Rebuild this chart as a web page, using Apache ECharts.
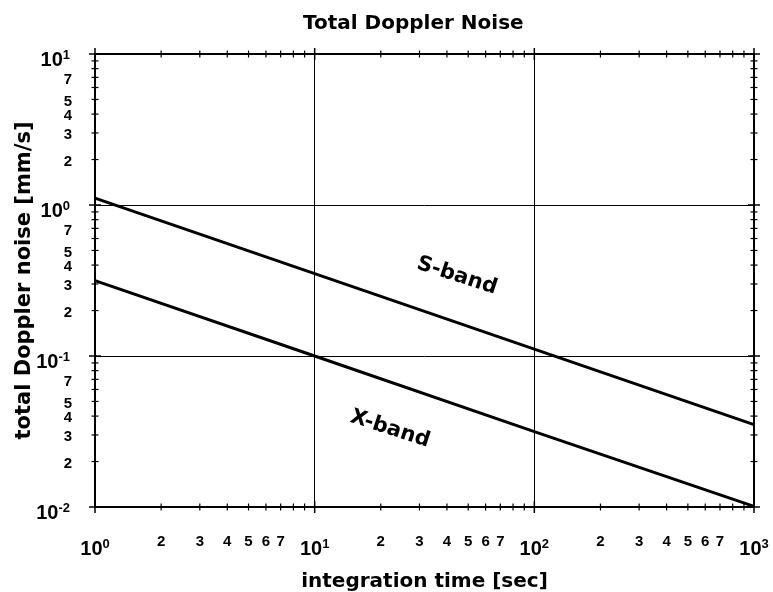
<!DOCTYPE html>
<html><head><meta charset="utf-8">
<script src="https://cdn.jsdelivr.net/npm/echarts@6/dist/echarts.min.js"></script>
<style>html,body{margin:0;padding:0;background:#fff}#c{width:773px;height:592px}</style>
</head><body><div id="c"></div>
<script>
// ---- data ----
const xMajorTicks = [1, 10, 100, 1000];
const yMajorTicks = [0.01, 0.1, 1, 10];
const xMinorTicks = [2,3,4,5,6,7,8,9, 20,30,40,50,60,70,80,90, 200,300,400,500,600,700,800,900];
const yMinorTicks = [0.02,0.03,0.04,0.05,0.06,0.07,0.08,0.09, 0.2,0.3,0.4,0.5,0.6,0.7,0.8,0.9, 2,3,4,5,6,7,8,9];
const xMinorLabels = ['2','3','4','5','6','7'];
const yMinorLabels = ['2','3','4','5','7'];
const sBandTime = [1, 10, 100, 1000];
const sBandNoise = [1.11, 0.351, 0.111, 0.0351];
const xBandTime = [1, 10, 100, 1000];
const xBandNoise = [0.316, 0.1, 0.0316, 0.0101];
const seriesNames = ['S-band', 'X-band'];

const FF = '"Liberation Sans", Arial, Helvetica, sans-serif';
const FT = '"DejaVu Sans", Verdana, sans-serif';

function mantissa(v) {
  const e = Math.floor(Math.log10(v) + 1e-9);
  return Math.round(v / Math.pow(10, e));
}
function majorFmt(v) {
  const e = Math.round(Math.log10(v));
  return '{b|10}{s|' + e + '}';
}
const richLabel = {
  b: {fontSize: 20, fontWeight: 'bold', fontFamily: FF, color: '#000', lineHeight: 22},
  s: {fontSize: 13, fontWeight: 'bold', fontFamily: FF, color: '#000', verticalAlign: 'top', lineHeight: 12}
};

function xTicksRender(params, api) {
  const v = api.value(0);
  const cs = params.coordSys;
  const px = api.coord([v, 1])[0];
  const major = xMajorTicks.indexOf(v) >= 0;
  const L = major ? 6 : 3.5;
  const y0 = cs.y + cs.height, y1 = cs.y;
  const st = {stroke: '#000', lineWidth: major ? 1.5 : 1.2};
  const ch = [
    {type: 'line', shape: {x1: px, y1: y0 - L, x2: px, y2: y0 + L}, style: st},
    {type: 'line', shape: {x1: px, y1: y1 - L, x2: px, y2: y1 + L}, style: st}
  ];
  if (!major && xMinorLabels.indexOf(String(mantissa(v))) >= 0) {
    ch.push({type: 'text', x: px, y: y0 + 35, style: {text: String(mantissa(v)), fill: '#000',
      font: 'bold 15px ' + FF, align: 'center', verticalAlign: 'middle'}});
  }
  return {type: 'group', children: ch};
}
function yTicksRender(params, api) {
  const v = api.value(1);
  const cs = params.coordSys;
  const py = api.coord([1, v])[1];
  const major = yMajorTicks.indexOf(v) >= 0;
  const L = major ? 6 : 3.5;
  const x0 = cs.x, x1 = cs.x + cs.width;
  const st = {stroke: '#000', lineWidth: major ? 1.5 : 1.2};
  const ch = [
    {type: 'line', shape: {x1: x0 - L, y1: py, x2: x0 + L, y2: py}, style: st},
    {type: 'line', shape: {x1: x1 - L, y1: py, x2: x1 + L, y2: py}, style: st}
  ];
  if (!major && yMinorLabels.indexOf(String(mantissa(v))) >= 0) {
    ch.push({type: 'text', x: x0 - 23, y: py + 2, style: {text: String(mantissa(v)), fill: '#000',
      font: 'bold 15px ' + FF, align: 'right', verticalAlign: 'middle'}});
  }
  return {type: 'group', children: ch};
}

const chart = echarts.init(document.getElementById('c'), null, {renderer: 'canvas'});
chart.setOption({
  animation: false,
  backgroundColor: '#fff',
  title: {
    text: 'Total Doppler Noise', left: 303, top: 14, padding: 0,
    textStyle: {fontFamily: FT, fontWeight: 'bold', fontSize: 20, color: '#000'}
  },
  grid: {left: 95, right: 19, top: 54, bottom: 85, show: true, borderColor: '#000', borderWidth: 2,
         backgroundColor: 'transparent', containLabel: false, outerBoundsMode: 'none'},
  xAxis: {
    type: 'log', logBase: 10, min: 1, max: 1000,
    name: 'integration time [sec]', nameLocation: 'middle', nameGap: 65, nameMoveOverlap: false,
    nameTextStyle: {fontFamily: FT, fontWeight: 'bold', fontSize: 20, color: '#000'},
    axisLine: {show: true, lineStyle: {color: '#000', width: 2}},
    axisTick: {show: false},
    splitLine: {show: true, lineStyle: {color: '#000', width: 1}},
    axisLabel: {margin: 31, formatter: majorFmt, rich: richLabel}
  },
  yAxis: {
    type: 'log', logBase: 10, min: 0.01, max: 10,
    name: 'total Doppler noise [mm/s]', nameLocation: 'middle', nameGap: 60, nameRotate: 90, nameMoveOverlap: false,
    nameTextStyle: {fontFamily: FT, fontWeight: 'bold', fontSize: 21, color: '#000'},
    axisLine: {show: true, lineStyle: {color: '#000', width: 2}},
    axisTick: {show: false},
    splitLine: {show: true, lineStyle: {color: '#000', width: 1}},
    axisLabel: {margin: 25, padding: [12, 0, 0, 0], formatter: majorFmt, rich: richLabel}
  },
  series: [
    {name: seriesNames[0], type: 'line', showSymbol: false, silent: true,
     data: sBandTime.map((t, i) => [t, sBandNoise[i]]),
     lineStyle: {color: '#000', width: 3}, z: 3},
    {name: seriesNames[1], type: 'line', showSymbol: false, silent: true,
     data: xBandTime.map((t, i) => [t, xBandNoise[i]]),
     lineStyle: {color: '#000', width: 3}, z: 3},
    {type: 'custom', silent: true, renderItem: xTicksRender, z: 5,
     data: xMajorTicks.concat(xMinorTicks).map(v => [v, 1])},
    {type: 'custom', silent: true, renderItem: yTicksRender, z: 5,
     data: yMajorTicks.concat(yMinorTicks).map(v => [1, v])}
  ],
  graphic: [
    {type: 'text', x: 457, y: 276, rotation: -18 * Math.PI / 180,
     style: {text: seriesNames[0], font: 'bold 21px ' + FT, fill: '#000', align: 'center', verticalAlign: 'middle'}},
    {type: 'text', x: 390, y: 429, rotation: -18 * Math.PI / 180,
     style: {text: seriesNames[1], font: 'bold 21px ' + FT, fill: '#000', align: 'center', verticalAlign: 'middle'}}
  ]
});
</script></body></html>
